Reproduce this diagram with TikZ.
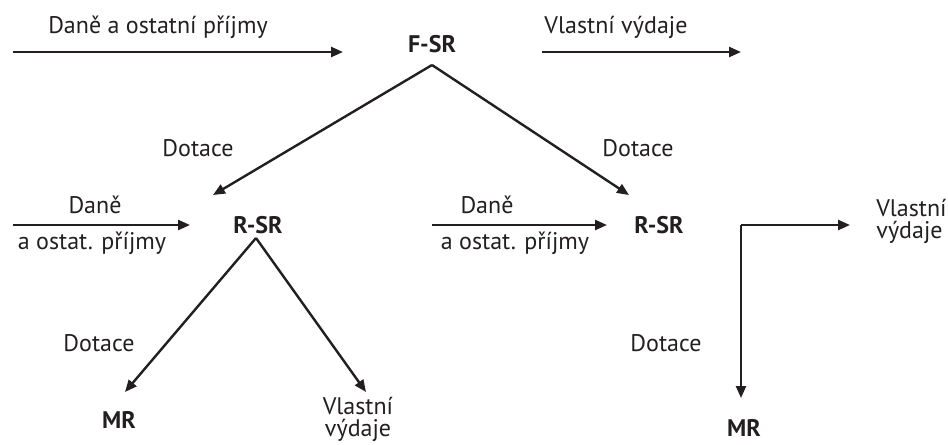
\documentclass[tikz,border=0pt]{standalone}
\usepackage{fontspec}
\setmainfont{PT Sans}
\usetikzlibrary{arrows.meta,calc}

\definecolor{ink}{RGB}{35,31,32}

\begin{document}
\begin{tikzpicture}[x=0.75pt,y=0.75pt,yscale=-1,xscale=1,
  flow/.style={draw=ink,line width=1.8pt,-{Triangle[length=9pt,width=7.5pt]}},
  lbl/.style={text=ink,inner sep=0.75pt,font=\fontsize{18}{16.5}\selectfont},
  unit/.style={text=ink,inner sep=1pt,font=\bfseries\fontsize{18}{16.5}\selectfont}]
  \useasboundingbox (0,0) rectangle (948,444);

  % budget levels
  \node[unit] (fsr) at (432,44) {F-SR};
  \node[unit] (rsrL) at (258,225) {R-SR};
  \node[unit] (rsrR) at (659,225) {R-SR};
  \node[unit] (mrL) at (119,420) {MR};
  \node[unit] (mrR) at (744,428) {MR};

  % Text Node
  \node[lbl] (taxTop) at (158,27) {Daně a ostatní příjmy};
  \node[lbl] (ownTop) at (616,27) {Vlastní výdaje};
  \node[lbl] (dotL) at (198,148) {Dotace};
  \node[lbl] (dotR) at (638,148) {Dotace};
  \node[lbl] (taxL) at (95,205) {Daně};
  \node[lbl] (taxLb) at (92,243) {a ostat. příjmy};
  \node[lbl] (taxM) at (487,205) {Daně};
  \node[lbl] (taxMb) at (515,243) {a ostat. příjmy};
  \node[lbl,align=left,anchor=west] (ownR) at (875,221) {Vlastní\\výdaje};
  \node[lbl] (dotBL) at (99,343) {Dotace};
  \node[lbl] (dotBR) at (666,343) {Dotace};
  \node[lbl,align=center] (ownL) at (358,419) {Vlastní\\výdaje};

  % inflows and own spending of F-SR
  \coordinate (srcTop) at (13,52);
  \draw[flow] (srcTop) -- ($(fsr)+(-89,8)$);
  \draw[flow] ($(fsr)+(110,8)$) -- ($(ownTop)+(125,25)$);

  % grants down to the regions
  \coordinate (apexF) at ($(fsr)+(0,21)$);
  \draw[flow] (apexF) -- ($(rsrL)+(-45,-30)$);
  \draw[flow] (apexF) -- ($(rsrR)+(-30,-30)$);

  % taxes into the regions
  \coordinate (srcL) at (13,225);
  \draw[flow] (srcL) -- ($(rsrL)+(-68,0)$);
  \draw[flow] ($(rsrL)+(174,0)$) -- ($(rsrR)+(-52,0)$);

  % left region
  \coordinate (apexL) at ($(rsrL)+(-2,13)$);
  \draw[flow] (apexL) -- ($(mrL)+(6,-28)$);
  \draw[flow] (apexL) -- ($(ownL)+(8,-27)$);

  % right region
  \coordinate (corner) at ($(rsrR)+(82,0)$);
  \draw[flow] (corner) -- ($(ownR.west)+(-25,4)$);
  \draw[flow] (corner) -- ($(mrR)+(-3,-30)$);
\end{tikzpicture}
\end{document}
